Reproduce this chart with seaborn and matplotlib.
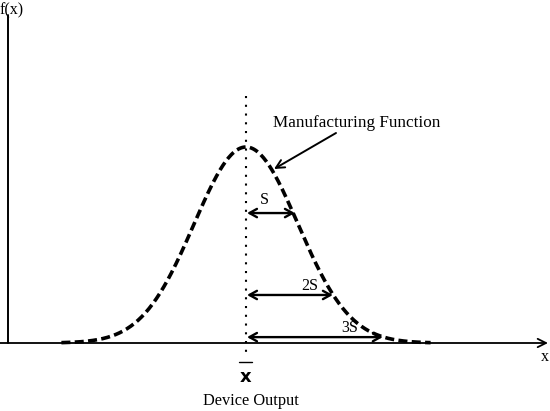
import numpy as np
import pandas as pd
import seaborn as sns
import matplotlib
matplotlib.use("Agg")
import matplotlib.pyplot as plt

# Data: normal-shaped manufacturing function (x in units of the curve's spread)
x_vals = np.linspace(-3.55, 3.55, 401)
density = np.exp(-x_vals**2 / 2.0)  # normalized so peak = 1
curve = pd.DataFrame({"x": x_vals, "f": density})

span_labels = ["S", "2S", "3S"]
span_ends = [0.94, 1.67, 2.63]       # arrow right end (x units)
span_heights = [0.663, 0.245, 0.03]  # relative height of each double arrow

sns.set_theme(style="white")
plt.rcParams["font.family"] = ["Liberation Serif", "DejaVu Serif"]

fig = plt.figure(figsize=(5.5, 4.11), dpi=100)
ax = fig.add_axes([0, 0, 1, 1])

# pixel mapping: x_px = 246 + 52*x ; y_px = 343 - 196*y
PX0, SX, PY0, SY = 246.0, 52.0, 343.0, 196.0
def dx(px):
    return (px - PX0) / SX
def dy(py):
    return (PY0 - py) / SY

ax.set_xlim(dx(0), dx(550))
ax.set_ylim(dy(411), dy(0))
ax.axis("off")

# Curve
sns.lineplot(data=curve, x="x", y="f", ax=ax, color="black", lw=2.6,
             linestyle=(0, (2.5, 1.2)), legend=False)

# Axes lines
ax.annotate("", xy=(dx(548), 0), xytext=(dx(0), 0),
            arrowprops=dict(arrowstyle="->,head_length=0.5,head_width=0.25",
                            color="black", lw=1.3, shrinkA=0, shrinkB=0))
ax.plot([dx(8), dx(8)], [0, dy(15)], color="black", lw=1.4)
ax.text(dx(0), dy(10), "f(x)", fontsize=11.5, ha="left", va="center", color="black")
ax.text(dx(545), dy(357), "x", fontsize=11.5, ha="center", va="center", color="black")

# Dotted mean line
ax.plot([0, 0], [dy(96), dy(352)], color="black", lw=1.5, linestyle=(0, (1, 3.2)))

# Span arrows
label_pos = [(264, 200), (310, 286), (350, 328)]
for lab, end, h, (lx, ly) in zip(span_labels, span_ends, span_heights, label_pos):
    ax.annotate("", xy=(end, h), xytext=(0.02, h),
                arrowprops=dict(arrowstyle="<->,head_length=0.45,head_width=0.25",
                                color="black", lw=1.7, shrinkA=0, shrinkB=0))
    ax.text(dx(lx), dy(ly), lab, fontsize=11.5, ha="center", va="center",
            color="black")

# Manufacturing function annotation
ax.text(dx(357), dy(123), "Manufacturing Function", fontsize=12.3,
        ha="center", va="center", color="black")
ax.annotate("", xy=(dx(274), dy(169)), xytext=(dx(336), dy(133)),
            arrowprops=dict(arrowstyle="->,head_length=0.5,head_width=0.25",
                            color="black", lw=1.4, shrinkA=0, shrinkB=0))

# x-bar label
ax.plot([dx(239), dx(252)], [dy(362), dy(362)], color="black", lw=1.0)
ax.text(0, dy(377), "x", fontsize=13, fontweight="bold", ha="center", va="center",
        color="black", family="DejaVu Sans")
ax.text(dx(251), dy(401), "Device Output", fontsize=11.8, ha="center",
        va="center", color="black")

fig.savefig("out.png", dpi=100)
